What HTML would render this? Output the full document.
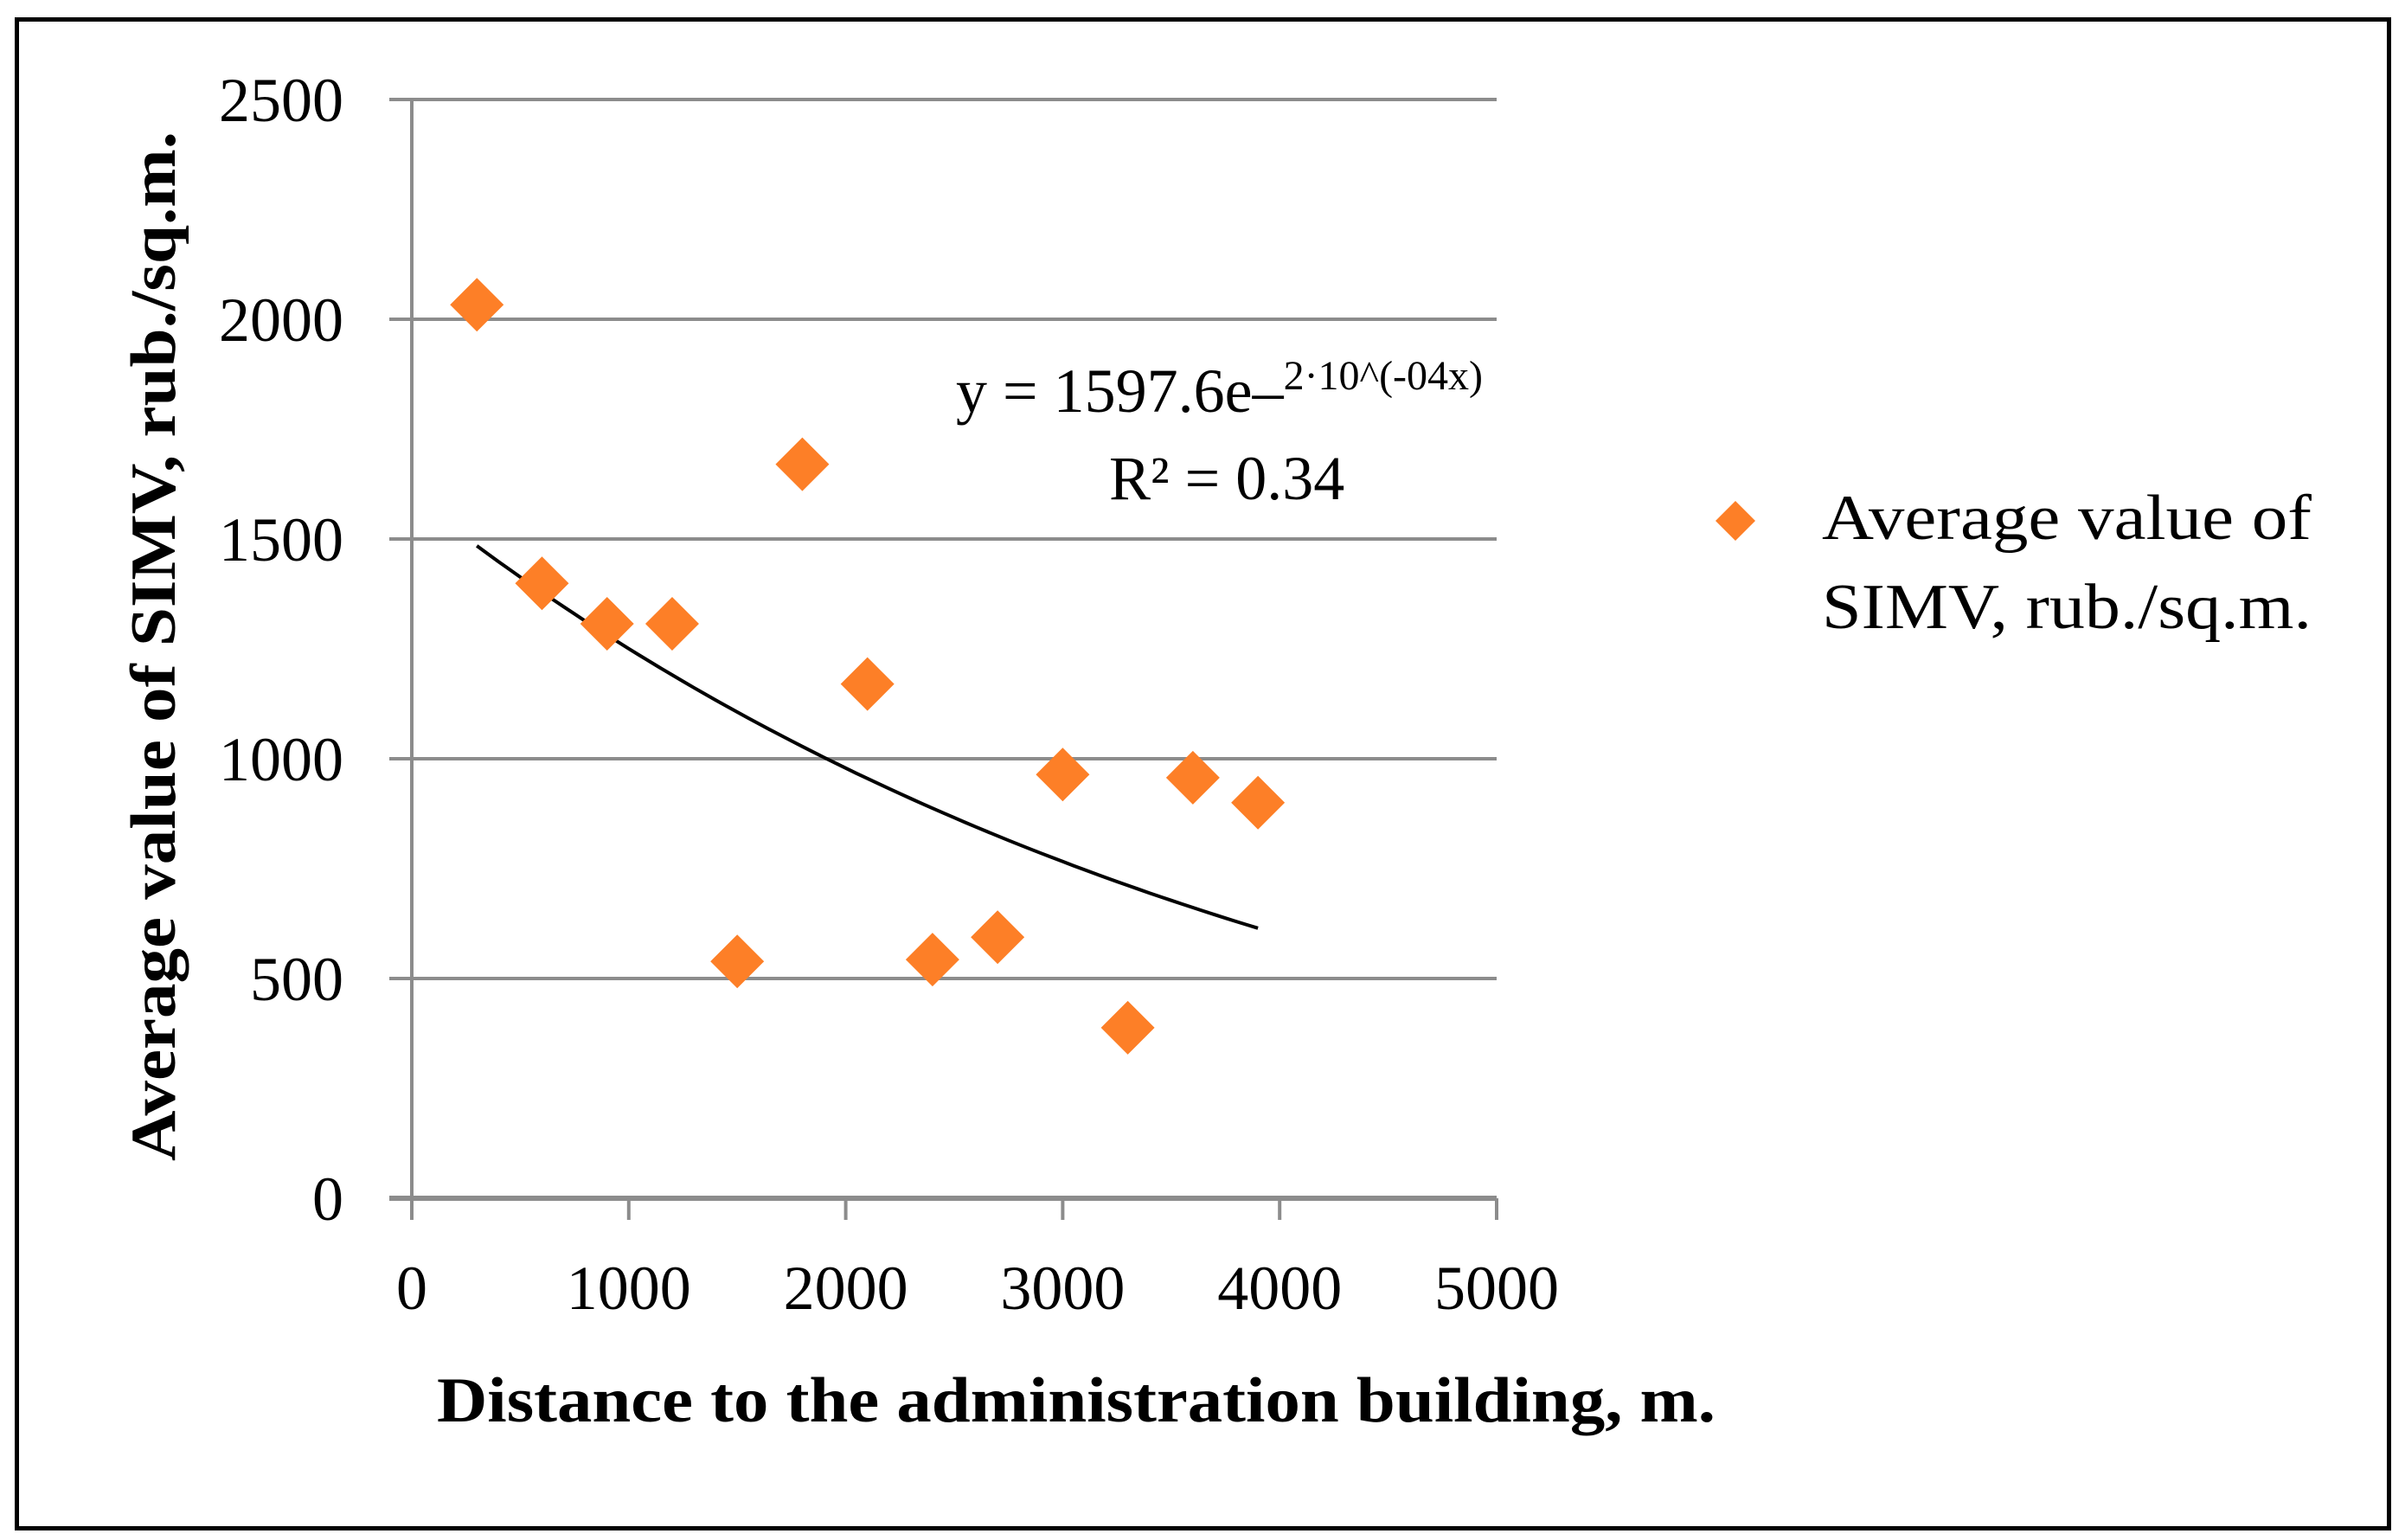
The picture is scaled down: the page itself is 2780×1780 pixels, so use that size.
<!DOCTYPE html>
<html><head><meta charset="utf-8"><style>html,body{margin:0;padding:0;background:#fff}svg{display:block}text{font-family:"Liberation Serif",serif;fill:#000}</style></head>
<body>
<svg id="chart" width="2780" height="1780" viewBox="0 0 2780 1780" xmlns="http://www.w3.org/2000/svg">
<rect x="19.5" y="22.5" width="2742" height="1744" fill="#fff" stroke="#000" stroke-width="5"/>
<g id="grid"></g><g id="ticks"></g><g id="marks"></g>
<text transform="translate(202,1342) rotate(-90)" font-size="74" font-weight="bold" textLength="1190" lengthAdjust="spacingAndGlyphs">Average value of SIMV, rub./sq.m.</text>
<text x="505" y="1643" font-size="74" font-weight="bold" textLength="1478" lengthAdjust="spacingAndGlyphs">Distance to the administration building, m.</text>
<text x="1105" y="476" font-size="72">y = 1597.6e–<tspan font-size="48" dy="-26">2·10^(-04x)</tspan></text>
<text x="1282" y="577" font-size="72">R² = 0.34</text>
<g>
<polygon points="2006,579 2029,602 2006,625 1983,602" fill="#FD7F27"/>
<text x="2106" y="623" font-size="74" textLength="566" lengthAdjust="spacingAndGlyphs">Average value of</text>
<text x="2106" y="726" font-size="74" textLength="566" lengthAdjust="spacingAndGlyphs">SIMV, rub./sq.m.</text>
</g>
</svg>
<script>
const xTicks=[0,1000,2000,3000,4000,5000];
const yTicks=[0,500,1000,1500,2000,2500];
const xValues=[300,600,900,1200,1500,1800,2100,2400,2700,3000,3300,3600,3900];
const yValues=[2033,1399,1307,1307,539,1670,1170,543,594,964,388,957,900];
const trendA=[1597.6];
const trendB=[0.000245];
const NS="http://www.w3.org/2000/svg";
const X=v=>476+v/5000*(1730-476);
const Y=v=>1385-v/2500*(1385-115);
function mk(tag,attrs,parent){const e=document.createElementNS(NS,tag);for(const k in attrs)e.setAttribute(k,attrs[k]);parent.appendChild(e);return e;}
const grid=document.getElementById('grid'),ticks=document.getElementById('ticks'),marks=document.getElementById('marks');
yTicks.forEach(v=>{
 const l=mk('line',{x1:450,x2:1730,y1:Y(v),y2:Y(v),stroke:'#8c8c8c','stroke-width':v===0?6:4},grid);
 
 
 const t=mk('text',{x:397,y:Y(v)+25,'font-size':72,'text-anchor':'end'},ticks);t.textContent=v;
 
 
});
const ya=mk('line',{x1:476,x2:476,y1:115,y2:1410,stroke:'#8c8c8c','stroke-width':4},grid);


xTicks.forEach(v=>{
 const l=mk('line',{x1:X(v),x2:X(v),y1:1385,y2:1410,stroke:'#8c8c8c','stroke-width':4},grid);
 
 
 const t=mk('text',{x:X(v),y:1513,'font-size':72,'text-anchor':'middle'},ticks);t.textContent=v;
 
 
});
let d='';
for(let x=300;x<=3900;x+=50){const y=trendA[0]*Math.exp(-trendB[0]*x);d+=(x===300?'M':'L')+X(x).toFixed(1)+','+Y(y).toFixed(1);}
const tr=mk('path',{d:d,fill:'none',stroke:'#000','stroke-width':4},marks);


xValues.forEach((xv,i)=>{
 const cx=X(xv),cy=Y(yValues[i]),r=31;
 const p=mk('polygon',{points:`${cx},${cy-r} ${cx+r},${cy} ${cx},${cy+r} ${cx-r},${cy}`,fill:'#FD7F27'},marks);
 
 
});
</script>
</body></html>
